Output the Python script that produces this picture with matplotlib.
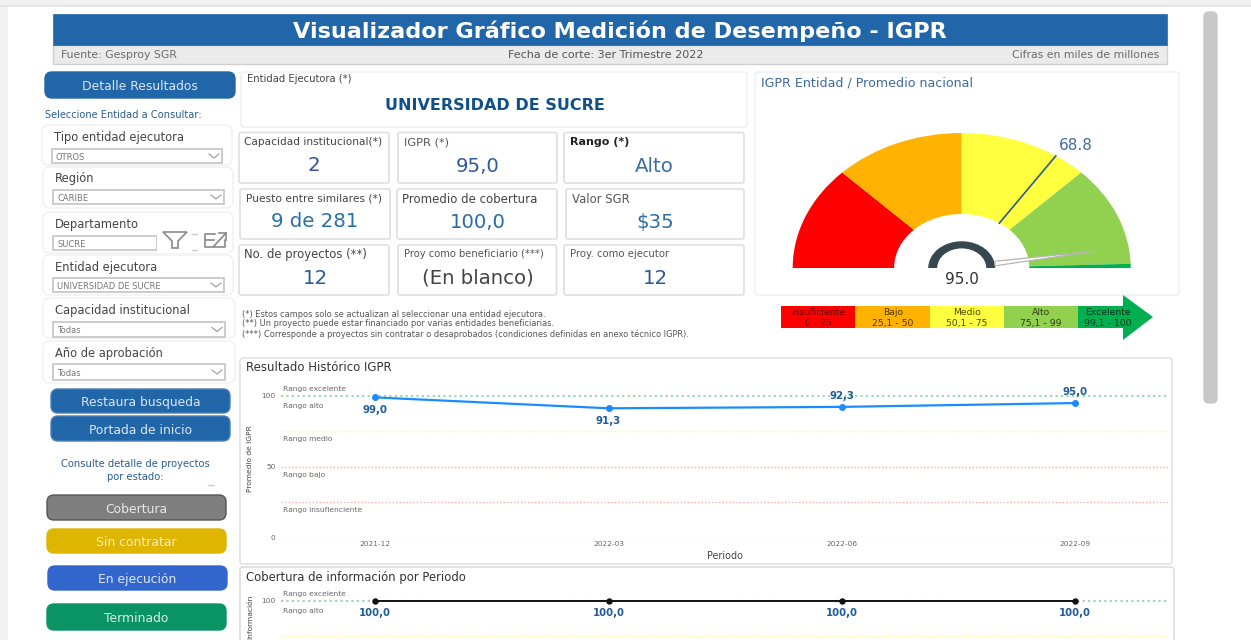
import matplotlib
matplotlib.use('Agg')
import matplotlib.pyplot as plt
from matplotlib.patches import FancyBboxPatch, Rectangle, Polygon
import numpy as np

plt.rcParams['font.family'] = ['DejaVu Sans']

W, H = 1251, 640
BLUE = '#2166a8'

# data
periods = ['2021-12', '2022-03', '2022-06', '2022-09']
igpr_values = [99.0, 91.3, 92.3, 95.0]
cobertura_values = [100.0, 100.0, 100.0, 100.0]
gauge_bands = [25, 25, 25, 24, 1]
gauge_colors = ['#ff0000', '#ffb300', '#ffff40', '#92d050', '#00b050']
igpr_entidad = 95.0
promedio_nacional = 68.8
legend_names = ['Insuficiente', 'Bajo', 'Medio', 'Alto', 'Excelente']
legend_ranges = ['0 - 25', '25,1 - 50', '50,1 - 75', '75,1 - 99', '99,1 - 100']
kpi_titles = ['Capacidad institucional(*)', 'IGPR (*)', 'Rango (*)',
              'Puesto entre similares (*)', 'Promedio de cobertura', 'Valor SGR',
              'No. de proyectos (**)', 'Proy como beneficiario (***)', 'Proy. como ejecutor']
kpi_values = ['2', '95,0', 'Alto', '9 de 281', '100,0', '$35', '12', '(En blanco)', '12']
slicer_titles = ['Tipo entidad ejecutora', 'Región', 'Departamento', 'Entidad ejecutora',
                 'Capacidad institucional', 'Año de aprobación']
slicer_values = ['OTROS', 'CARIBE', 'SUCRE', 'UNIVERSIDAD DE SUCRE', 'Todas', 'Todas']
notes = ['(*) Estos campos solo se actualizan al seleccionar una entidad ejecutora.',
         '(**) Un proyecto puede estar financiado por varias entidades beneficiarias.',
         '(***) Corresponde a proyectos sin contratar o desaprobados (condiciones definidas en anexo técnico IGPR).']

fig = plt.figure(figsize=(W / 100, H / 100), dpi=100, facecolor='#f1f1f1')
bg = fig.add_axes([0, 0, 1, 1])
bg.set_xlim(0, W)
bg.set_ylim(H, 0)
bg.axis('off')


def box(x0, y0, x1, y1, fc='white', ec='#e6e6e6', lw=1.0, r=3, z=1):
    bg.add_patch(FancyBboxPatch((x0, y0), x1 - x0, y1 - y0, boxstyle='round,pad=0,rounding_size=%s' % r,
                                fc=fc, ec=ec, lw=lw, zorder=z))


def label(x, y, s, size=8, color='#444444', ha='left', weight='normal', z=5):
    bg.text(x, y - 0.8, s, fontsize=size, color=color, ha=ha, va='center_baseline', fontweight=weight, zorder=z)


def button(x0, y0, x1, y1, s, fc, ec=None, tc='#dbe7f3', cx=None):
    box(x0, y0, x1, y1, fc=fc, ec=ec or fc, r=7)
    label(cx or (x0 + x1) / 2, (y0 + y1) / 2 + 1, s, size=8.9, color=tc, ha='center')


# page
bg.add_patch(Rectangle((8, 7), W - 8, H - 7, fc='white', ec='none', zorder=0))
bg.add_patch(Rectangle((0, 5), W, 2, fc='#e6e6e6', ec='none', zorder=0))
box(1204, 12, 1217, 403, fc='#c8c8c8', ec='#c8c8c8', r=5)

# header
bg.add_patch(Rectangle((53, 45), 1114, 19, fc='#ebebeb', ec='#d0d0d0', lw=1, zorder=1))
bg.add_patch(Rectangle((53, 14), 1114, 31, fc=BLUE, ec=BLUE, lw=0.5, zorder=1))
label(620, 30, 'Visualizador Gráfico Medición de Desempeño - IGPR', size=16.1, color='white', ha='center', weight='bold')
label(61, 55, 'Fuente: Gesproy SGR', size=7.8, color='#6a6a6a')
label(606, 55, 'Fecha de corte: 3er Trimestre 2022', size=8, color='#555555', ha='center')
label(1159, 55, 'Cifras en miles de millones', size=7.85, color='#6a6a6a', ha='right')

# left panel
button(45, 72, 235, 98, 'Detalle Resultados', BLUE)
label(45, 114.5, 'Seleccione Entidad a Consultar:', size=7.1, color='#2b5e8e')

slicer_card = [(42, 125, 232, 165), (43, 167, 233, 208), (43, 212, 233, 253),
               (43, 255, 233, 295), (43, 298, 235, 338), (43, 341, 235, 383)]
slicer_title_y = [137, 178, 224, 267, 310, 353]
slicer_drop = [(52, 149, 222, 163), (53, 190, 224, 204), (53, 236, 157, 250),
               (53, 278, 224, 292), (53, 322, 225, 337), (53, 364, 225, 380)]
for card, ty, drop, title, value in zip(slicer_card, slicer_title_y, slicer_drop, slicer_titles, slicer_values):
    box(*card, ec='#f0f0f0', r=7)
    label(card[0] + 12, ty, title, size=8.3, color='#444444')
    bg.add_patch(Rectangle((drop[0], drop[1]), drop[2] - drop[0], drop[3] - drop[1], fc='white', ec='#c8c8c8', lw=1.3, zorder=2))
    label(drop[0] + 4, (drop[1] + drop[3]) / 2 + 1, value, size=6, color='#777777')
    if drop[2] > 200:
        cy = (drop[1] + drop[3]) / 2
        bg.plot([drop[2] - 13, drop[2] - 8, drop[2] - 3], [cy - 2, cy + 2, cy - 2], color='#999999', lw=0.8, zorder=3)

# filter and expand icons over the Departamento slicer
bg.add_patch(Rectangle((157, 231), 72, 22, fc='white', ec='none', zorder=3))
bg.add_patch(Polygon([(163, 232), (187, 232), (178, 241), (178, 248), (172, 248), (172, 241)], fc='white', ec='#8a8a8a', lw=1.2, zorder=4))
bg.plot([192, 197], [234, 234], color='#cccccc', lw=1, zorder=4)
bg.plot([192, 197], [250, 250], color='#cccccc', lw=1, zorder=4)
bg.plot([215, 205, 205, 225, 225], [234, 234, 247, 247, 240], color='#8a8a8a', lw=1.2, zorder=4)
bg.plot([205, 214], [240, 240], color='#8a8a8a', lw=1.2, zorder=4)
bg.plot([214, 226], [246, 233], color='#8a8a8a', lw=1.2, zorder=4)
bg.plot([219, 226, 226], [233, 233, 240], color='#8a8a8a', lw=1.2, zorder=4)

button(51, 389, 230, 413, 'Restaura busqueda', BLUE, ec='#4a7fb5')
button(51, 416, 230, 441, 'Portada de inicio', BLUE, ec='#4a7fb5')
label(135, 464, 'Consulte detalle de proyectos', size=7.2, color='#2b5e8e', ha='center')
label(135, 477, 'por estado:', size=7.2, color='#2b5e8e', ha='center')
bg.plot([208, 214], [484.5, 484.5], color='#cccccc', lw=1, zorder=3)
button(47, 495, 226, 520, 'Cobertura', '#7f7f7f', ec='#555555', tc='#e8e8e8')
button(47, 529, 226, 553, 'Sin contratar', '#deb500', tc='#f7eebc')
button(48, 566, 227, 590, 'En ejecución', '#3366cc', tc='#dde6f7')
button(47, 604, 226, 630, 'Terminado', '#0a9465', tc='#d5efe6')

# entity card and KPI cards
box(241, 72, 747, 127, ec='#eeeeee')
label(247, 79, 'Entidad Ejecutora (*)', size=7.2, color='#444444')
label(495, 105, 'UNIVERSIDAD DE SUCRE', size=11.5, color='#0f4f8a', ha='center', weight='bold')

kpi_boxes = [(239, 132.5, 389, 183), (398, 132.5, 557, 183), (564, 132.5, 744, 183),
             (240, 189, 390, 239), (397, 189, 557, 239), (566, 189, 744, 239),
             (239, 245, 389, 295), (398, 245, 556.5, 295), (564, 245, 744, 295)]
kpi_title_y = [142, 142, 142, 198.5, 198.5, 198.5, 254, 254, 254]
kpi_value_y = [164.5, 165, 165, 220.5, 221, 221, 277, 277, 277]
kpi_value_x = [314, 478, 654, 315, 478, 655, 315, 478, 655]
kpi_title_size = [7.6, 8.2, 8, 7.7, 8.5, 8.4, 8.4, 7.2, 7.3]
kpi_bold = [False, False, True, False, False, False, False, False, False]
kpi_title_color = ['#444444', '#555555', '#222222', '#444444', '#444444', '#555555', '#444444', '#555555', '#555555']
kpi_value_color = ['#3b4f9c', '#2f5a9c', '#3a6ea5', '#2a70a8', '#2a6ca8', '#2f6fa8', '#2c5a98', '#444444', '#2c5a98']
for i in range(9):
    b = kpi_boxes[i]
    box(*b, ec='#dddddd', lw=1.1, r=2)
    label(b[0] + 5.5, kpi_title_y[i], kpi_titles[i], size=kpi_title_size[i], color=kpi_title_color[i],
          weight='bold' if kpi_bold[i] else 'normal')
    label(kpi_value_x[i], kpi_value_y[i], kpi_values[i], size=14.2, color=kpi_value_color[i], ha='center')

for y, s in zip([314, 323.5, 334], notes):
    label(242, y, s, size=5.95, color='#555555')

# gauge
box(755, 72, 1179, 295, ec='#eeeeee')
label(761, 82, 'IGPR Entidad / Promedio nacional', size=9.1, color='#3f6b99')

cx, cy, rx, ry = 961.7, 268, 169, 135
gauge = fig.add_axes([(cx - 1.1 * rx) / W, 1 - (cy + 0.2 * ry) / H, 2.2 * rx / W, 1.4 * ry / H])
gauge.patch.set_alpha(0)
gauge.pie(gauge_bands + [sum(gauge_bands)], colors=gauge_colors + ['none'], startangle=180, counterclock=False,
          radius=1, wedgeprops={'width': 0.6, 'linewidth': 0})
gauge.pie([100, 100], colors=['#37474f', 'none'], startangle=180, counterclock=False,
          radius=0.198, wedgeprops={'width': 0.053, 'linewidth': 0})
gauge.set_aspect('auto')
gauge.set_xlim(-1.1, 1.1)
gauge.set_ylim(-0.2, 1.2)
gauge.axis('off')


def gauge_xy(value, r):
    a = np.pi * (1 - value / 100)
    return r * np.cos(a), r * np.sin(a)


nx0, ny0 = gauge_xy(promedio_nacional, 0.4)
nx1, ny1 = gauge_xy(promedio_nacional, 1.0)
gauge.plot([nx0, nx1], [ny0, ny1], color='#2f5b8a', lw=1.2)
gauge.annotate('%.1f' % promedio_nacional, (nx1, ny1), xytext=(14.5, 7.5), textcoords='offset points',
               fontsize=11, color='#3e6da0', ha='center', va='center')
tx, ty = gauge_xy(igpr_entidad, 0.8)
gauge.add_patch(Polygon([(0.197, 0.05), (tx, ty), (0.197, 0.016)], fc='white', ec='#b5b5b5', lw=0.9, zorder=5))
gauge.text(0, -0.085, '%.1f' % igpr_entidad, fontsize=11, color='#333333', ha='center', va='center')

# range legend strip
strip_x = 781
strip_w = [74.3, 74.3, 74.3, 74.3, 45]
for i in range(5):
    bg.add_patch(Rectangle((strip_x + i * 74.3, 305.7), strip_w[i], 22.6, fc=gauge_colors[i], ec='none', zorder=2))
bg.add_patch(Polygon([(1123, 295), (1153, 317), (1123, 340)], fc=gauge_colors[4], ec='none', zorder=2))
strip_text_x = [818, 893, 967, 1041, 1108]
strip_text_color = ['#6e0000', '#4a3500', '#4a4a00', '#2a3d14', '#02331a']
for x, n, r, c in zip(strip_text_x, legend_names, legend_ranges, strip_text_color):
    label(x, 312.5, n, size=6.7, color=c, ha='center')
    label(x, 323.5, r, size=6.7, color=c, ha='center')


# line charts
def chart_axes(top, y100, bottom):
    scale = 1.413
    ax = fig.add_axes([281 / W, 1 - bottom / H, (1168 - 281) / W, (bottom - top) / H])
    ax.patch.set_alpha(0)
    ax.set_ylim(100 - (bottom - y100) / scale, 100 + (y100 - top) / scale)
    ax.set_xlim((281 - 375.3) / 233.3, (1168 - 375.3) / 233.3)
    for s in ax.spines.values():
        s.set_visible(False)
    for level, color in zip([75, 50, 25, 0], ['#fbfb90', '#f9b0a0', '#f9b0a0', '#e4e4e4']):
        ax.axhline(level, color=color, lw=1, ls=(0, (1, 1.5)), zorder=1)
    ax.axhline(100, color='#93dca0', lw=1.5, ls=(0, (1, 1.6)), zorder=1)
    ax.tick_params(length=0, labelsize=5.3, labelcolor='#666666')
    trans = ax.get_yaxis_transform()
    for y, s in zip([105, 92.7, 69.5, 44, 19],
                    ['Rango excelente', 'Rango alto', 'Rango medio', 'Rango bajo', 'Rango insufienciente']):
        if ax.get_ylim()[0] < y:
            ax.text(0.002, y, s, transform=trans, fontsize=5.4, color='#666666', va='center')
    return ax


box(240, 358, 1172, 564, ec='#e2e2e2', lw=1.2)
label(246, 367, 'Resultado Histórico IGPR', size=8.45, color='#333333')
ax1 = chart_axes(386, 396, 537.3)
x_pos = range(len(periods))
ax1.plot(x_pos, igpr_values, color='#1a8cff', lw=1.6, marker='o', ms=4, zorder=3)
ax1.set_xticks(list(x_pos), periods)
ax1.set_yticks([0, 50, 100])
ax1.tick_params(axis='x', pad=3)
ax1.tick_params(axis='y', pad=4)
igpr_label_offset = [-9, -9, 8, 8]
for x, v, off in zip(x_pos, igpr_values, igpr_label_offset):
    ax1.annotate(('%.1f' % v).replace('.', ','), (x, v), xytext=(0, off), textcoords='offset points',
                 ha='center', va='center', fontsize=7.4, color='#1f5c99', fontweight='bold', zorder=4)
bg.text(250, 459, 'Promedio de IGPR', fontsize=5.4, color='#444444', rotation=90, ha='center', va='center', zorder=5)
label(725, 556, 'Periodo', size=6.9, color='#444444', ha='center')

box(240, 567, 1174, 660, ec='#e2e2e2', lw=1.4)
label(246, 577, 'Cobertura de información por Periodo', size=8.4, color='#333333')
ax2 = chart_axes(590, 600.7, 640)
ax2.plot(x_pos, cobertura_values, color='#111111', lw=1.4, marker='o', ms=3.6, zorder=3)
ax2.set_xticks([])
ax2.set_yticks([100])
ax2.tick_params(axis='y', pad=4)
for x, v in zip(x_pos, cobertura_values):
    ax2.annotate(('%.1f' % v).replace('.', ','), (x, v), xytext=(0, -9), textcoords='offset points',
                 ha='center', va='center', fontsize=7.3, color='#1f5c99', fontweight='bold', zorder=4)
bg.text(250, 595, 'información', fontsize=5.4, color='#444444', rotation=90, ha='center', va='top', zorder=5)

fig.savefig('out.png', dpi=100, facecolor=fig.get_facecolor())
